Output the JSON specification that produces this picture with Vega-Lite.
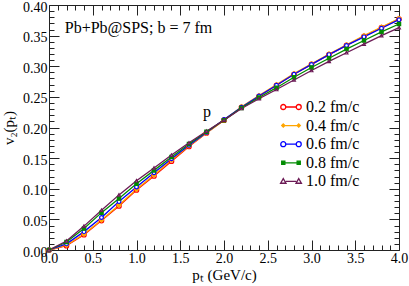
{
  "$schema": "https://vega.github.io/schema/vega-lite/v6.json",
  "width": 350,
  "height": 245,
  "autosize": {"type": "none"},
  "padding": {"left": 49, "top": 5, "right": 10, "bottom": 36},
  "background": "white",
  "config": {
    "view": {"stroke": null},
    "font": "Liberation Serif",
    "axis": {"grid": false, "domainColor": "#222", "tickColor": "#222", "domainWidth": 1, "tickWidth": 1, "labelFont": "Liberation Serif", "labelFontSize": 14, "labelColor": "black", "titleFont": "Liberation Serif", "titleFontSize": 15, "titleFontWeight": "normal", "titleColor": "black", "labelOverlap": false, "labelFlush": false},
    "legend": {"orient": "none", "legendX": 232, "legendY": 92, "padding": 0, "rowPadding": 0.6, "symbolSize": 346, "labelFont": "Liberation Serif", "labelFontSize": 16, "labelColor": "black", "labelOffset": 5, "symbolStrokeWidth": 1.3, "symbolOpacity": 1}
  },
  "datasets": {
    "curves": [
      {"pT": 0.0, "a": 0, "b": 0, "c": 0, "d": 0, "e": 0},
      {"pT": 0.2, "a": 0.007, "b": 0.008, "c": 0.010, "d": 0.013, "e": 0.0147},
      {"pT": 0.4, "a": 0.025, "b": 0.026, "c": 0.030, "d": 0.035, "e": 0.039},
      {"pT": 0.6, "a": 0.048, "b": 0.049, "c": 0.053, "d": 0.061, "e": 0.065},
      {"pT": 0.8, "a": 0.072, "b": 0.0735, "c": 0.079, "d": 0.084, "e": 0.090},
      {"pT": 1.0, "a": 0.098, "b": 0.099, "c": 0.103, "d": 0.108, "e": 0.113},
      {"pT": 1.2, "a": 0.121, "b": 0.1224, "c": 0.126, "d": 0.130, "e": 0.134},
      {"pT": 1.4, "a": 0.145, "b": 0.147, "c": 0.149, "d": 0.152, "e": 0.155},
      {"pT": 1.6, "a": 0.169, "b": 0.170, "c": 0.171, "d": 0.173, "e": 0.175},
      {"pT": 1.8, "a": 0.191, "b": 0.191, "c": 0.192, "d": 0.193, "e": 0.194},
      {"pT": 2.0, "a": 0.212, "b": 0.212, "c": 0.213, "d": 0.212, "e": 0.212},
      {"pT": 2.2, "a": 0.233, "b": 0.234, "c": 0.233, "d": 0.232, "e": 0.231},
      {"pT": 2.4, "a": 0.251, "b": 0.252, "c": 0.2514, "d": 0.249, "e": 0.247},
      {"pT": 2.6, "a": 0.269, "b": 0.270, "c": 0.269, "d": 0.265, "e": 0.262},
      {"pT": 2.8, "a": 0.287, "b": 0.288, "c": 0.287, "d": 0.282, "e": 0.2776},
      {"pT": 3.0, "a": 0.303, "b": 0.304, "c": 0.303, "d": 0.298, "e": 0.293},
      {"pT": 3.2, "a": 0.319, "b": 0.320, "c": 0.319, "d": 0.313, "e": 0.308},
      {"pT": 3.4, "a": 0.334, "b": 0.335, "c": 0.334, "d": 0.328, "e": 0.322},
      {"pT": 3.6, "a": 0.349, "b": 0.350, "c": 0.348, "d": 0.342, "e": 0.336},
      {"pT": 3.8, "a": 0.363, "b": 0.364, "c": 0.362, "d": 0.356, "e": 0.350},
      {"pT": 4.0, "a": 0.377, "b": 0.378, "c": 0.376, "d": 0.369, "e": 0.363}
    ],
    "runs": [
      {"run": "0.2 fm/c"}, {"run": "0.4 fm/c"}, {"run": "0.6 fm/c"}, {"run": "0.8 fm/c"}, {"run": "1.0 fm/c"}
    ],
    "notes": [
      {"pT": 0.18, "v2": 0.354, "txt": "Pb+Pb@SPS; b = 7 fm"},
      {"pT": 1.76, "v2": 0.2177, "txt": "p"}
    ]
  },
  "layer": [
    {
      "data": {"name": "curves"},
      "transform": [{"fold": ["a", "b", "c", "d", "e"], "as": ["series", "v2"]}],
      "mark": {"type": "line", "strokeWidth": 1.3},
      "encoding": {
        "x": {"field": "pT", "type": "quantitative", "scale": {"domain": [0, 4], "nice": false, "zero": false},
          "axis": {"orient": "bottom", "title": "pₜ (GeV/c)", "titlePadding": -3,
            "values": [0,0.1,0.2,0.3,0.4,0.5,0.6,0.7,0.8,0.9,1,1.1,1.2,1.3,1.4,1.5,1.6,1.7,1.8,1.9,2,2.1,2.2,2.3,2.4,2.5,2.6,2.7,2.8,2.9,3,3.1,3.2,3.3,3.4,3.5,3.6,3.7,3.8,3.9,4],
            "labelExpr": "abs(datum.value*2-round(datum.value*2))<1e-6 ? format(datum.value,'.1f') : ''",
            "tickSize": {"condition": {"test": "abs(datum.value*2-round(datum.value*2))<1e-6", "value": -10}, "value": -5},
            "labelPadding": 11}},
        "y": {"field": "v2", "type": "quantitative", "scale": {"domain": [0, 0.4], "nice": false, "zero": false},
          "axis": {"orient": "left", "title": "v₂(pₜ)", "titlePadding": 6,
            "values": [0,0.01,0.02,0.03,0.04,0.05,0.06,0.07,0.08,0.09,0.1,0.11,0.12,0.13,0.14,0.15,0.16,0.17,0.18,0.19,0.2,0.21,0.22,0.23,0.24,0.25,0.26,0.27,0.28,0.29,0.3,0.31,0.32,0.33,0.34,0.35,0.36,0.37,0.38,0.39,0.4],
            "labelExpr": "abs(datum.value*20-round(datum.value*20))<1e-6 ? format(datum.value,'.2f') : ''",
            "tickSize": {"condition": {"test": "abs(datum.value*20-round(datum.value*20))<1e-6", "value": -10}, "value": -5},
            "labelPadding": 12, "labelOffset": 2}},
        "color": {"field": "series", "type": "nominal", "legend": null,
          "scale": {"domain": ["a", "b", "c", "d", "e"], "range": ["#ff0000", "#ffa500", "#0000ff", "#008b00", "#6b1a55"]}}
      }
    },
    {
      "data": {"name": "curves"},
      "transform": [{"fold": ["a", "b", "c", "d", "e"], "as": ["curve", "v2"]}],
      "mark": {"type": "point", "strokeWidth": 1.2, "opacity": 1, "fillOpacity": 1},
      "encoding": {
        "x": {"field": "pT", "type": "quantitative", "axis": null},
        "y": {"field": "v2", "type": "quantitative", "axis": null},
        "stroke": {"field": "curve", "type": "nominal", "legend": null,
          "scale": {"domain": ["a", "b", "c", "d", "e"], "range": ["#ff0000", "#ffa500", "#0000ff", "#008b00", "#6b1a55"]}},
        "fill": {"field": "curve", "type": "nominal", "legend": null,
          "scale": {"domain": ["a", "b", "c", "d", "e"], "range": ["white", "#ffa500", "white", "#008b00", "white"]}},
        "shape": {"field": "curve", "type": "nominal", "legend": null,
          "scale": {"domain": ["a", "b", "c", "d", "e"], "range": ["circle", "diamond", "circle", "square", "triangle-up"]}},
        "size": {"field": "curve", "type": "nominal", "legend": null,
          "scale": {"domain": ["a", "b", "c", "d", "e"], "range": [20, 8, 20, 10, 20]}}
      }
    },
    {
      "data": {"name": "notes"},
      "mark": {"type": "text", "align": "left", "baseline": "alphabetic", "font": "Liberation Serif", "fontSize": 16, "color": "black"},
      "encoding": {
        "x": {"field": "pT", "type": "quantitative", "axis": null},
        "y": {"field": "v2", "type": "quantitative", "axis": null},
        "text": {"field": "txt"}
      }
    },
    {
      "data": {"name": "runs"},
      "mark": {"type": "point", "opacity": 0, "strokeWidth": 1.3},
      "encoding": {
        "stroke": {"field": "run", "type": "nominal", "legend": {"title": null},
          "scale": {"domain": ["0.2 fm/c", "0.4 fm/c", "0.6 fm/c", "0.8 fm/c", "1.0 fm/c"], "range": ["#ff0000", "#ffa500", "#0000ff", "#008b00", "#6b1a55"]}},
        "fill": {"field": "run", "type": "nominal", "legend": {"title": null},
          "scale": {"domain": ["0.2 fm/c", "0.4 fm/c", "0.6 fm/c", "0.8 fm/c", "1.0 fm/c"], "range": ["white", "#ffa500", "white", "#008b00", "white"]}},
        "shape": {"field": "run", "type": "nominal", "legend": {"title": null},
          "scale": {"domain": ["0.2 fm/c", "0.4 fm/c", "0.6 fm/c", "0.8 fm/c", "1.0 fm/c"], "range": [
            "M-0.56,0L0.56,0M-0.56,0A0.27,0.27,0,1,1,-1.1,0A0.27,0.27,0,1,1,-0.56,0ZM1.1,0A0.27,0.27,0,1,1,0.56,0A0.27,0.27,0,1,1,1.1,0Z",
            "M-0.83,0L0.83,0M-0.83,-0.17L-0.66,0L-0.83,0.17L-1,0ZM0.83,-0.17L1,0L0.83,0.17L0.66,0Z",
            "M-0.56,0L0.56,0M-0.56,0A0.27,0.27,0,1,1,-1.1,0A0.27,0.27,0,1,1,-0.56,0ZM1.1,0A0.27,0.27,0,1,1,0.56,0A0.27,0.27,0,1,1,1.1,0Z",
            "M-0.66,0L0.66,0M-1,-0.17L-0.66,-0.17L-0.66,0.17L-1,0.17ZM0.66,-0.17L1,-0.17L1,0.17L0.66,0.17Z",
            "M-0.56,0L0.56,0M-0.83,-0.3L-0.54,0.2L-1.12,0.2ZM0.83,-0.3L1.12,0.2L0.54,0.2Z"]}}
      }
    },
    {
      "data": {"name": "curves"},
      "mark": {"type": "point", "opacity": 0},
      "encoding": {
        "x": {"field": "pT", "type": "quantitative",
          "axis": {"orient": "top", "title": null, "labels": false,
            "values": [0,0.1,0.2,0.3,0.4,0.5,0.6,0.7,0.8,0.9,1,1.1,1.2,1.3,1.4,1.5,1.6,1.7,1.8,1.9,2,2.1,2.2,2.3,2.4,2.5,2.6,2.7,2.8,2.9,3,3.1,3.2,3.3,3.4,3.5,3.6,3.7,3.8,3.9,4],
            "tickSize": {"condition": {"test": "abs(datum.value*2-round(datum.value*2))<1e-6", "value": -10}, "value": -5}}},
        "y": {"field": "a", "type": "quantitative",
          "axis": {"orient": "right", "title": null, "labels": false,
            "values": [0,0.01,0.02,0.03,0.04,0.05,0.06,0.07,0.08,0.09,0.1,0.11,0.12,0.13,0.14,0.15,0.16,0.17,0.18,0.19,0.2,0.21,0.22,0.23,0.24,0.25,0.26,0.27,0.28,0.29,0.3,0.31,0.32,0.33,0.34,0.35,0.36,0.37,0.38,0.39,0.4],
            "tickSize": {"condition": {"test": "abs(datum.value*20-round(datum.value*20))<1e-6", "value": -10}, "value": -5}}}
      }
    }
  ],
  "resolve": {"axis": {"x": "independent", "y": "independent"}, "scale": {"stroke": "independent", "fill": "independent", "shape": "independent", "size": "independent"}}
}
